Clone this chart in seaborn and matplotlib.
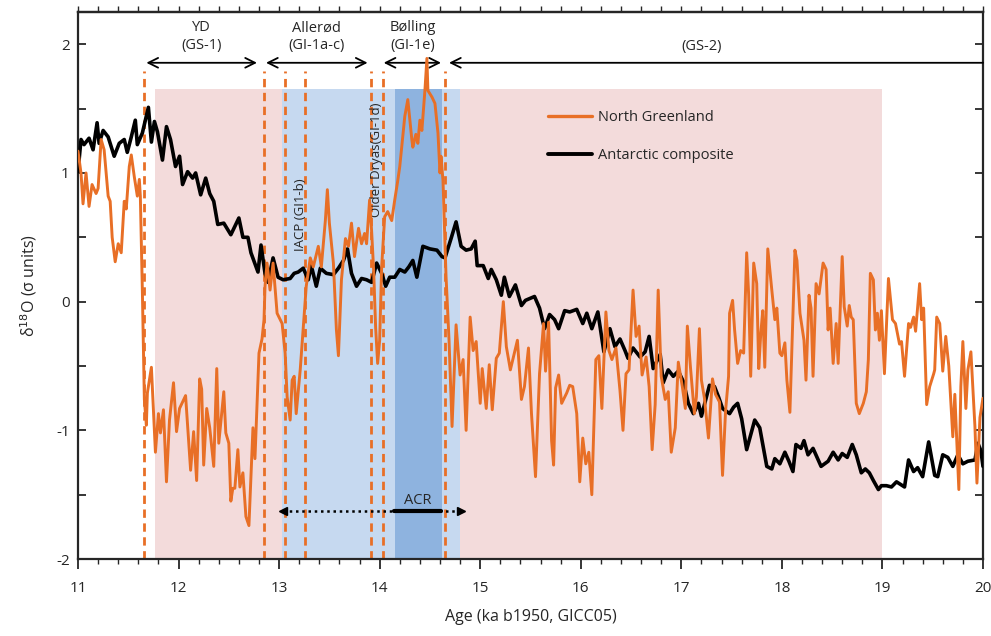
import matplotlib
matplotlib.use('Agg')
import matplotlib.pyplot as plt
import numpy as np
import pandas as pd
import seaborn as sns
from matplotlib.lines import Line2D

#%% data
# Antarctic composite
ant_age = [11.00, 11.03, 11.06, 11.11, 11.15, 11.19, 11.21, 11.25, 11.30, 11.36,
           11.41, 11.46, 11.49, 11.53, 11.57, 11.59, 11.64, 11.70, 11.73, 11.76,
           11.79, 11.84, 11.88, 11.92, 11.97, 12.01, 12.04, 12.09, 12.14, 12.17,
           12.22, 12.27, 12.31, 12.35, 12.39, 12.45, 12.52, 12.60, 12.64, 12.69,
           12.72, 12.79, 12.82, 12.86, 12.89, 12.94, 12.99, 13.04, 13.11, 13.15,
           13.19, 13.24, 13.29, 13.32, 13.37, 13.41, 13.47, 13.54, 13.59, 13.64,
           13.68, 13.72, 13.77, 13.82, 13.87, 13.92, 13.97, 14.02, 14.06, 14.10,
           14.15, 14.20, 14.25, 14.29, 14.33, 14.37, 14.43, 14.50, 14.57, 14.62,
           14.65, 14.71, 14.76, 14.81, 14.86, 14.91, 14.95, 14.97, 15.03, 15.08,
           15.11, 15.16, 15.21, 15.24, 15.29, 15.35, 15.41, 15.45, 15.54, 15.59,
           15.64, 15.69, 15.74, 15.78, 15.84, 15.89, 15.96, 16.02, 16.06, 16.11,
           16.17, 16.23, 16.29, 16.34, 16.39, 16.44, 16.47, 16.52, 16.59, 16.64,
           16.68, 16.72, 16.79, 16.82, 16.87, 16.92, 16.97, 17.02, 17.07, 17.12,
           17.17, 17.20, 17.28, 17.33, 17.37, 17.41, 17.48, 17.52, 17.56, 17.60,
           17.65, 17.73, 17.78, 17.85, 17.90, 17.93, 17.98, 18.03, 18.07, 18.11,
           18.14, 18.19, 18.22, 18.26, 18.31, 18.39, 18.46, 18.51, 18.56, 18.60,
           18.65, 18.70, 18.74, 18.79, 18.83, 18.87, 18.91, 18.96, 18.99, 19.04,
           19.09, 19.14, 19.22, 19.26, 19.31, 19.35, 19.40, 19.46, 19.52, 19.55,
           19.60, 19.65, 19.70, 19.75, 19.80, 19.85, 19.92, 19.95, 19.98, 20.00]
ant_val = [1.01, 1.26, 1.22, 1.27, 1.18, 1.39, 1.23, 1.33, 1.28, 1.13,
           1.23, 1.26, 1.16, 1.28, 1.41, 1.22, 1.31, 1.51, 1.24, 1.40,
           1.32, 1.10, 1.36, 1.26, 1.05, 1.13, 0.91, 1.01, 0.96, 1.00,
           0.83, 0.96, 0.84, 0.78, 0.60, 0.61, 0.52, 0.65, 0.50, 0.50,
           0.38, 0.23, 0.44, 0.22, 0.15, 0.34, 0.19, 0.17, 0.18, 0.22,
           0.23, 0.26, 0.17, 0.28, 0.12, 0.26, 0.22, 0.21, 0.26, 0.32,
           0.41, 0.22, 0.12, 0.18, 0.17, 0.15, 0.30, 0.22, 0.12, 0.19,
           0.19, 0.25, 0.23, 0.27, 0.32, 0.19, 0.43, 0.41, 0.40, 0.35,
           0.34, 0.49, 0.62, 0.43, 0.40, 0.41, 0.47, 0.28, 0.28, 0.18,
           0.25, 0.17, 0.05, 0.19, 0.04, 0.13, -0.03, 0.01, 0.04, -0.05,
           -0.21, -0.10, -0.14, -0.21, -0.07, -0.08, -0.06, -0.17, -0.09, -0.21,
           -0.08, -0.39, -0.21, -0.35, -0.29, -0.38, -0.44, -0.36, -0.43, -0.39,
           -0.27, -0.52, -0.41, -0.63, -0.53, -0.58, -0.54, -0.62, -0.79, -0.87,
           -0.79, -0.89, -0.65, -0.66, -0.74, -0.83, -0.87, -0.82, -0.79, -0.91,
           -1.15, -0.92, -0.98, -1.28, -1.30, -1.22, -1.26, -1.17, -1.24, -1.32,
           -1.11, -1.14, -1.08, -1.19, -1.14, -1.28, -1.24, -1.17, -1.23, -1.18,
           -1.21, -1.11, -1.19, -1.33, -1.30, -1.33, -1.39, -1.46, -1.43, -1.43,
           -1.44, -1.40, -1.44, -1.23, -1.32, -1.29, -1.36, -1.09, -1.35, -1.36,
           -1.19, -1.21, -1.28, -1.19, -1.26, -1.24, -1.23, -1.10, -1.16, -1.28]

# North Greenland
gr_age = [11.00, 11.03, 11.05, 11.08, 11.11, 11.14, 11.18, 11.20, 11.23, 11.26,
          11.30, 11.32, 11.34, 11.37, 11.40, 11.43, 11.46, 11.48, 11.51, 11.53,
          11.56, 11.59, 11.61, 11.62, 11.64, 11.66, 11.68, 11.69, 11.73, 11.77,
          11.80, 11.82, 11.85, 11.88, 11.91, 11.95, 11.98, 12.01, 12.07, 12.12,
          12.15, 12.18, 12.21, 12.23, 12.25, 12.28, 12.31, 12.35, 12.38, 12.40,
          12.45, 12.47, 12.50, 12.52, 12.54, 12.56, 12.59, 12.61, 12.64, 12.67,
          12.70, 12.74, 12.76, 12.80, 12.83, 12.85, 12.86, 12.88, 12.91, 12.94,
          12.98, 13.03, 13.06, 13.08, 13.11, 13.13, 13.15, 13.17, 13.21, 13.24,
          13.27, 13.31, 13.34, 13.39, 13.42, 13.46, 13.48, 13.50, 13.54, 13.57,
          13.59, 13.62, 13.66, 13.69, 13.72, 13.75, 13.79, 13.82, 13.85, 13.87,
          13.90, 13.92, 13.94, 13.96, 13.98, 14.00, 14.02, 14.05, 14.08, 14.12,
          14.15, 14.18, 14.20, 14.25, 14.28, 14.32, 14.33, 14.36, 14.38, 14.40,
          14.42, 14.45, 14.47, 14.48, 14.52, 14.55, 14.58, 14.60, 14.61, 14.63,
          14.66, 14.69, 14.72, 14.76, 14.80, 14.83, 14.86, 14.90, 14.93, 14.96,
          15.00, 15.02, 15.06, 15.09, 15.12, 15.16, 15.19, 15.23, 15.26, 15.30,
          15.33, 15.37, 15.41, 15.44, 15.48, 15.51, 15.55, 15.59, 15.63, 15.65,
          15.68, 15.71, 15.73, 15.75, 15.78, 15.81, 15.86, 15.89, 15.92, 15.96,
          15.99, 16.02, 16.05, 16.08, 16.11, 16.15, 16.18, 16.21, 16.25, 16.28,
          16.31, 16.35, 16.39, 16.42, 16.45, 16.48, 16.52, 16.55, 16.58, 16.61,
          16.65, 16.68, 16.71, 16.74, 16.77, 16.80, 16.84, 16.87, 16.90, 16.94,
          16.97, 17.01, 17.04, 17.06, 17.09, 17.13, 17.15, 17.18, 17.20, 17.23,
          17.27, 17.31, 17.34, 17.38, 17.41, 17.44, 17.47, 17.48, 17.51, 17.53,
          17.56, 17.59, 17.62, 17.65, 17.67, 17.69, 17.72, 17.75, 17.77, 17.79,
          17.81, 17.83, 17.86, 17.90, 17.93, 17.95, 17.98, 18.00, 18.03, 18.05,
          18.08, 18.13, 18.15, 18.18, 18.22, 18.24, 18.27, 18.29, 18.31, 18.34,
          18.37, 18.41, 18.44, 18.46, 18.48, 18.51, 18.54, 18.56, 18.60, 18.62,
          18.65, 18.67, 18.69, 18.71, 18.74, 18.77, 18.81, 18.84, 18.86, 18.88,
          18.91, 18.93, 18.95, 18.97, 18.99, 19.02, 19.06, 19.10, 19.13, 19.15,
          19.17, 19.19, 19.22, 19.26, 19.28, 19.31, 19.33, 19.37, 19.39, 19.41,
          19.44, 19.47, 19.51, 19.52, 19.54, 19.57, 19.60, 19.63, 19.66, 19.70,
          19.72, 19.76, 19.78, 19.80, 19.83, 19.85, 19.88, 19.92, 19.94, 19.97,
          20.00]
gr_val = [1.17, 1.00, 0.76, 1.00, 0.74, 0.91, 0.84, 0.88, 1.26, 1.18,
          0.82, 0.78, 0.50, 0.31, 0.45, 0.38, 0.78, 0.72, 1.05, 1.14,
          0.97, 0.82, 0.95, 0.82, 0.09, -0.76, -0.96, -0.71, -0.51, -1.17,
          -0.87, -1.02, -0.84, -1.40, -0.92, -0.63, -1.01, -0.83, -0.73, -1.31,
          -1.01, -1.39, -0.60, -0.68, -1.27, -0.83, -0.98, -1.28, -0.52, -1.10,
          -0.70, -1.02, -1.10, -1.55, -1.45, -1.45, -1.15, -1.44, -1.33, -1.67,
          -1.74, -0.98, -1.22, -0.40, -0.29, -0.14, 0.12, 0.30, 0.09, 0.30,
          -0.09, -0.17, -0.40, -0.74, -0.92, -0.61, -0.58, -0.87, -0.53, -0.20,
          0.12, 0.34, 0.27, 0.43, 0.27, 0.63, 0.87, 0.61, 0.30, -0.22,
          -0.42, 0.17, 0.49, 0.43, 0.61, 0.35, 0.57, 0.45, 0.53, 0.45,
          0.79, 0.55, 0.25, -0.20, -0.48, -0.30, 0.27, 0.66, 0.70, 0.63,
          0.79, 0.94, 1.05, 1.44, 1.57, 1.26, 1.20, 1.30, 1.23, 1.41,
          1.33, 1.64, 1.89, 1.64, 1.59, 1.54, 1.31, 1.00, 1.13, 0.94,
          0.20, -0.30, -0.97, -0.18, -0.57, -0.45, -1.00, -0.12, -0.38, -0.31,
          -0.79, -0.52, -0.83, -0.49, -0.84, -0.44, -0.40, 0.00, -0.35, -0.53,
          -0.43, -0.30, -0.76, -0.66, -0.36, -0.87, -1.36, -0.56, -0.17, -0.54,
          -0.16, -1.08, -1.27, -0.67, -0.57, -0.79, -0.71, -0.65, -0.66, -0.87,
          -1.40, -1.06, -1.26, -1.17, -1.50, -0.45, -0.42, -0.83, -0.08, -0.38,
          -0.45, -0.36, -0.69, -1.00, -0.56, -0.53, 0.09, -0.27, -0.19, -0.57,
          -0.43, -0.66, -1.15, -0.80, 0.09, -0.58, -0.76, -0.70, -1.17, -0.98,
          -0.47, -0.66, -0.83, -0.19, -0.50, -0.87, -0.74, -0.21, -0.61, -0.75,
          -1.06, -0.60, -0.72, -0.78, -1.35, -0.85, -0.58, -0.09, 0.01, -0.22,
          -0.48, -0.38, -0.40, 0.38, 0.05, -0.58, 0.30, 0.14, -0.52, -0.25,
          -0.07, -0.51, 0.41, 0.09, -0.14, -0.05, -0.40, -0.42, -0.32, -0.61,
          -0.86, 0.40, 0.32, -0.09, -0.30, -0.61, 0.05, -0.05, -0.58, 0.14,
          0.06, 0.30, 0.25, -0.22, -0.05, -0.48, -0.17, -0.48, 0.35, -0.04,
          -0.19, -0.03, -0.12, -0.14, -0.79, -0.87, -0.79, -0.70, -0.45, 0.22,
          0.17, -0.22, -0.09, -0.30, -0.07, -0.56, 0.18, -0.14, -0.17, -0.25,
          -0.33, -0.31, -0.58, -0.17, -0.20, -0.12, -0.23, 0.14, -0.14, -0.05,
          -0.80, -0.66, -0.56, -0.53, -0.12, -0.17, -0.54, -0.27, -0.50, -1.05,
          -0.72, -1.46, -0.66, -0.31, -0.83, -0.53, -0.39, -0.97, -1.41, -0.90,
          -0.75]

# event boundaries (dashed lines) and shaded periods, ka b2k
boundaries = [11.656, 12.85, 13.06, 13.26, 13.91, 14.03, 14.65]
stadial_span = (11.765, 19.0)
interstadial_span = (13.03, 14.80)
bolling_span = (14.15, 14.62)
shade_top = 1.65
acr_span = (13.04, 14.81)
acr_core = (14.14, 14.61)

periods = [('YD\n(GS-1)', 11.68, 12.78),
           ('Allerød\n(GI-1a-c)', 12.87, 13.88),
           ('Bølling\n(GI-1e)', 14.04, 14.61)]
gs2_start = 14.69

#%% style
sns.set_style('ticks')
plt.rcParams['font.family'] = ['Open Sans', 'DejaVu Sans']
plt.rcParams['axes.unicode_minus'] = False

orange = '#E86F26'
pink = '#F3DBDB'
lightblue = '#C6D9F0'
darkblue = '#8EB3DF'

fig = plt.figure(figsize=(9.91, 6.36), dpi=100)
ax = fig.add_axes([0.0787, 0.121, 0.9132, 0.860])

# shaded periods
ax.fill_between(stadial_span, -2, shade_top, color=pink, lw=0, zorder=0)
ax.fill_between(interstadial_span, -2, shade_top, color=lightblue, lw=0, zorder=0)
ax.fill_between(bolling_span, -2, shade_top, color=darkblue, lw=0, zorder=0)

# dashed event boundaries
for b in boundaries:
    ax.plot([b, b], [-2, 1.79], color=orange, lw=2, ls=(0, (3, 2)), zorder=1)

ant = pd.DataFrame({'age': ant_age, 'd18O': ant_val})
gr = pd.DataFrame({'age': gr_age, 'd18O': gr_val})

sns.lineplot(data=ant, x='age', y='d18O', color='black', lw=2.6, ax=ax,
             estimator=None, zorder=3)
sns.lineplot(data=gr, x='age', y='d18O', color=orange, lw=2.1, ax=ax,
             estimator=None, zorder=4)

# period arrows and labels
arrow_y = 1.856
for label, x0, x1 in periods:
    ax.annotate('', xy=(x0, arrow_y), xytext=(x1, arrow_y),
                arrowprops=dict(arrowstyle='<->,head_length=0.7,head_width=0.35',
                                color='black', lw=1.3, shrinkA=0, shrinkB=0))
    ax.text((x0 + x1) / 2, 2.06, label, ha='center', va='center', fontsize=10.5,
            linespacing=1.25)
ax.annotate('', xy=(gs2_start, arrow_y), xytext=(20.0, arrow_y),
            arrowprops=dict(arrowstyle='->,head_length=0.7,head_width=0.35',
                            color='black', lw=1.3, shrinkA=0, shrinkB=0))
ax.text(17.2, 1.98, '(GS-2)', ha='center', va='center', fontsize=10.5)

# vertical labels
ax.text(13.21, 0.39, 'IACP (GI1-b)', rotation=90, ha='center', va='bottom',
        fontsize=9.5)
ax.text(13.965, 0.66, 'Older Dryas(GI-1d)', rotation=90, ha='center',
        va='bottom', fontsize=9.5)

# ACR
acr_y = -1.63
ax.plot(acr_span, [acr_y, acr_y], color='black', lw=1.8, ls=(0, (1, 1.5)),
        zorder=5)
ax.plot(acr_core, [acr_y, acr_y], color='black', lw=3, zorder=5)
ax.plot([acr_span[0]], [acr_y], marker='<', color='black', ms=6, zorder=5)
ax.plot([acr_span[1]], [acr_y], marker='>', color='black', ms=6, zorder=5)
ax.text(sum(acr_core) / 2, -1.6, 'ACR', ha='center', va='bottom', fontsize=10.5)

# legend
handles = [Line2D([0], [0], color=orange, lw=2.4, label='North Greenland'),
           Line2D([0], [0], color='black', lw=2.8, label='Antarctic composite')]
ax.legend(handles=handles, loc='upper left', bbox_to_anchor=(0.505, 0.845),
          frameon=False, fontsize=10.5, handlelength=3.0, handletextpad=0.45,
          labelspacing=1.6)

# axes
ax.set_xlim(11, 20)
ax.set_ylim(-2, 2.25)
ax.set_xticks(np.arange(11, 21, 1))
ax.set_xticks(np.arange(11, 20.01, 0.2), minor=True)
ax.set_yticks([-2, -1, 0, 1, 2])
ax.set_yticks([-1.5, -0.5, 0.5, 1.5], minor=True)
ax.tick_params(axis='x', which='major', direction='out', length=7, width=1.3,
               labelsize=11, pad=9, top=False)
ax.tick_params(axis='x', which='minor', direction='out', length=3.5, width=1,
               top=False)
ax.tick_params(axis='y', which='both', direction='in', length=6, width=1.3,
               left=True, right=True, labelsize=11, pad=6)
sec = ax.secondary_xaxis('top')
sec.set_xticks(np.arange(11, 20.01, 0.2))
sec.tick_params(direction='out', length=4, width=1, labeltop=False)
sec.spines['top'].set_linewidth(1.6)
for s in ax.spines.values():
    s.set_linewidth(1.6)
    s.set_visible(True)
ax.set_xlabel('Age (ka b1950, GICC05)', fontsize=11.5, labelpad=9)
ax.set_ylabel(r'δ$^{18}$O (σ units)', fontsize=11.5, labelpad=12)

plt.savefig('out.png', dpi=100)
